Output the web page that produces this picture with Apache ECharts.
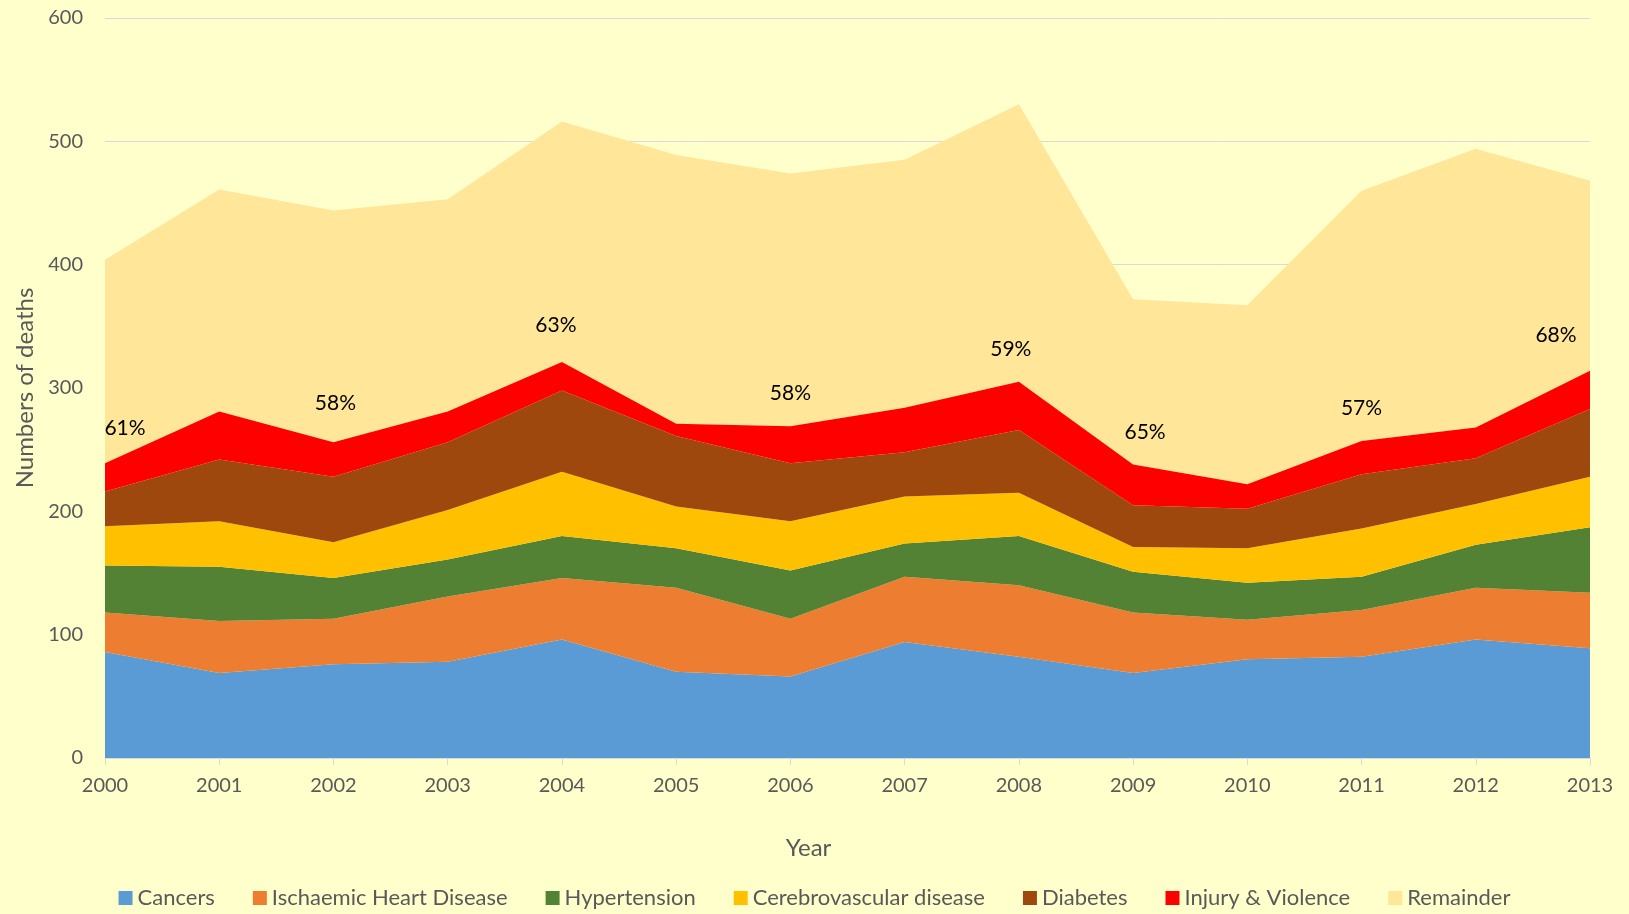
<!DOCTYPE html>
<html>
<head>
<meta charset="utf-8">
<script src="https://cdn.jsdelivr.net/npm/echarts@6/dist/echarts.min.js"></script>
<style>
html,body{margin:0;padding:0;background:#FFFFCC;}
#c{width:1629px;height:914px;}
</style>
</head>
<body>
<div id="c"></div>
<script>
const years = ['2000','2001','2002','2003','2004','2005','2006','2007','2008','2009','2010','2011','2012','2013'];
const cancers      = [86, 69, 76, 78, 96, 70, 66, 94, 82, 69, 80, 82, 96, 89];
const ischaemic    = [32, 42, 37, 53, 50, 68, 47, 53, 58, 49, 32, 38, 42, 45];
const hypertension = [38, 44, 33, 30, 34, 32, 39, 27, 40, 33, 30, 27, 35, 53];
const cerebro      = [32, 37, 29, 40, 52, 34, 40, 38, 35, 20, 28, 39, 33, 41];
const diabetes     = [28, 50, 53, 55, 66, 57, 47, 36, 51, 34, 32, 44, 37, 55];
const injury       = [23, 39, 28, 25, 23, 10, 30, 36, 39, 33, 20, 27, 25, 31];
const remainder    = [165, 180, 188, 172, 195, 218, 205, 201, 225, 134, 145, 203, 226, 154];
const shareLabels  = ['61%', null, '58%', null, '63%', null, '58%', null, '59%', '65%', null, '57%', null, '68%'];
const yTicks = [0, 100, 200, 300, 400, 500, 600];

const FONT = 'Lato';
const GREY = '#595959';

// label nudges in pixels (style only)
const labelNudge = {0: [20, 2], 2: [2, 7], 4: [-6, 4], 8: [-8, 0], 9: [12, 0], 13: [-34, 3]};

const names = ['Cancers','Ischaemic Heart Disease','Hypertension','Cerebrovascular disease','Diabetes','Injury & Violence','Remainder'];
const colors = ['#5B9BD5','#ED7D31','#548235','#FFC000','#9E480E','#FF0000','#FFE699'];
const values = [cancers, ischaemic, hypertension, cerebro, diabetes, injury, remainder];

const series = names.map((n, i) => {
  const isInjury = n === 'Injury & Violence';
  let data = values[i];
  if (isInjury) {
    data = values[i].map((v, k) => {
      if (!shareLabels[k]) return v;
      const nd = labelNudge[k] || [0, 0];
      return {
        value: v,
        label: {
          show: true,
          formatter: shareLabels[k],
          position: 'top',
          distance: 22,
          offset: [nd[0], -nd[1]],
          color: '#000000',
          fontFamily: FONT,
          fontSize: 21
        }
      };
    });
  }
  return {
    name: n,
    type: 'line',
    stack: 'total',
    data: data,
    symbol: isInjury ? 'circle' : 'none',
    symbolSize: 0,
    showSymbol: isInjury,
    showAllSymbol: true,
    lineStyle: {width: 0},
    areaStyle: {color: colors[i], opacity: 1},
    itemStyle: {color: colors[i]},
    emphasis: {disabled: true},
    label: {show: false},
    z: isInjury ? 3 : 2
  };
});

const chart = echarts.init(document.getElementById('c'), null, {renderer: 'canvas'});
chart.setOption({
  backgroundColor: '#FFFFCC',
  animation: false,
  color: colors,
  grid: {left: 105, right: 39, top: 18, bottom: 156, containLabel: false},
  legend: {
    top: 882,
    left: 'center',
    itemWidth: 14,
    itemHeight: 14,
    itemGap: 38,
    icon: 'rect',
    textStyle: {fontFamily: FONT, fontSize: 22, color: GREY},
    data: names
  },
  xAxis: {
    type: 'category',
    data: years,
    boundaryGap: false,
    name: 'Year',
    nameLocation: 'middle',
    nameGap: 78,
    nameTextStyle: {fontFamily: FONT, fontSize: 24, color: GREY, padding: [0, 78, 0, 0]},
    axisLine: {show: true, lineStyle: {color: '#D9D9D9', width: 1}},
    axisTick: {show: true, length: 7, lineStyle: {color: '#D9D9D9'}},
    axisLabel: {fontFamily: FONT, fontSize: 20, color: GREY, margin: 18},
    splitLine: {show: false}
  },
  yAxis: {
    type: 'value',
    min: yTicks[0],
    max: yTicks[yTicks.length - 1],
    interval: 100,
    name: 'Numbers of deaths',
    nameLocation: 'middle',
    nameGap: 67,
    nameTextStyle: {fontFamily: FONT, fontSize: 24, color: GREY},
    axisLine: {show: false},
    axisTick: {show: false},
    axisLabel: {fontFamily: FONT, fontSize: 20, color: GREY, margin: 22},
    splitLine: {show: true, lineStyle: {color: '#D9D9D9', width: 1}}
  },
  series: series
});
</script>
</body>
</html>
